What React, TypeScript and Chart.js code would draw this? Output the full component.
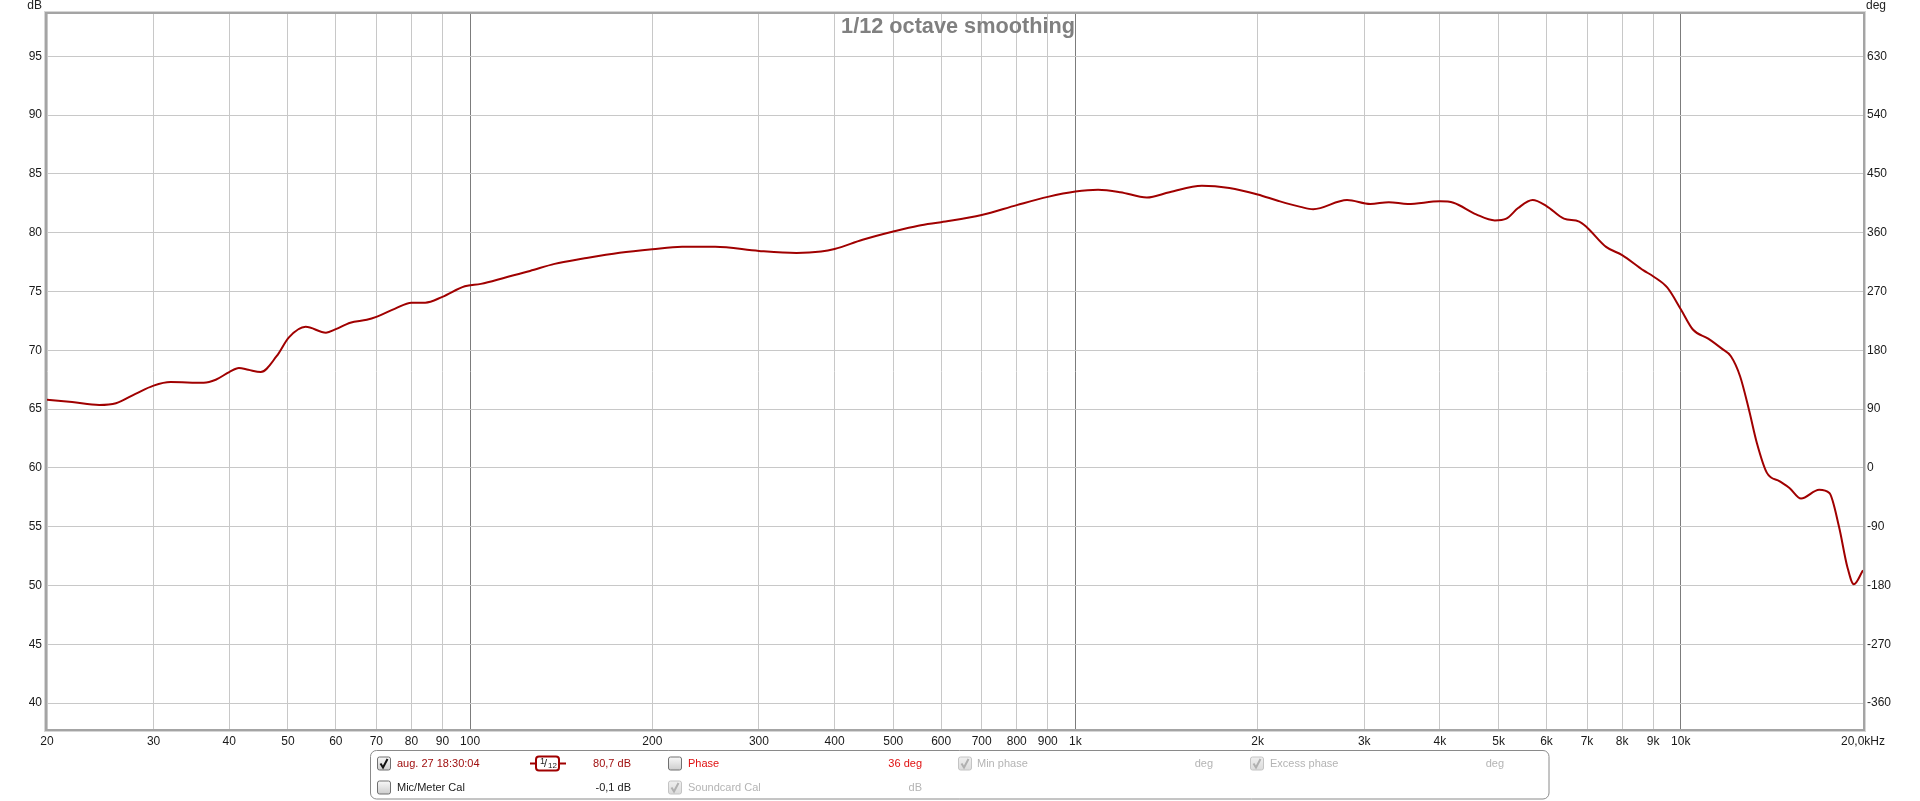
import React, { useEffect, useRef } from 'react';
import { Chart, registerables } from 'chart.js';
Chart.register(...registerables);

// ---- data ----
const freqHz = [
  20, 22, 24.4, 26, 28, 30, 32, 36.3, 38, 40, 41.5, 43, 45.1, 47.9, 50.2, 53.5, 57.8, 60, 63.4, 67.5,
  70, 75.2, 80, 84.3, 90, 98, 104.2, 114.4, 125.6, 137.9, 153.8, 176.6, 200, 224, 254, 300, 346, 380,
  400, 445, 500, 550, 600, 700, 800, 900, 1000, 1090, 1186, 1312, 1430, 1618, 1796, 2000, 2166, 2354,
  2470, 2810, 3070, 3294, 3540, 4000, 4212, 4592, 4930, 5150, 5386, 5692, 6000, 6412, 6796, 7000, 7526,
  8000, 8678, 9000, 9496, 10000, 10480, 11100, 11720, 12100, 12530, 12958, 13360, 13870, 14572, 15120,
  15800, 16930, 17600, 18256, 18840, 19314, 20000,
];
const splDb = [
  65.8, 65.6, 65.35, 65.5, 66.3, 67.0, 67.3, 67.25, 67.5, 68.15, 68.5, 68.35, 68.15, 69.5, 71.1, 72.0, 71.5, 71.8, 72.35, 72.6,
  72.85, 73.55, 74.05, 74.05, 74.55, 75.45, 75.65, 76.2, 76.75, 77.35, 77.8, 78.3, 78.6, 78.8, 78.8, 78.45, 78.28, 78.4,
  78.62, 79.4, 80.1, 80.6, 80.9, 81.5, 82.35, 83.05, 83.5, 83.65, 83.45, 83.0, 83.45, 84.0, 83.8, 83.25, 82.7, 82.2,
  82.0, 82.78, 82.44, 82.6, 82.44, 82.67, 82.55, 81.56, 81.05, 81.2, 82.1, 82.78, 82.27, 81.2, 80.95, 80.45, 78.8,
  78.1, 76.8, 76.3, 75.35, 73.5, 71.75, 71.0, 70.1, 69.5, 67.8, 64.97, 62.1, 59.6, 58.86, 58.3,
  57.4, 58.15, 57.87, 55.0, 51.6, 50.1, 51.3,
];
const freqTicks = [
  20, 30, 40, 50, 60, 70, 80, 90, 100, 200, 300, 400, 500, 600, 700, 800, 900, 1000,
  2000, 3000, 4000, 5000, 6000, 7000, 8000, 9000, 10000, 20000,
];
const freqTickLabels = [
  '20', '30', '40', '50', '60', '70', '80', '90', '100', '200', '300', '400', '500', '600', '700', '800', '900', '1k',
  '2k', '3k', '4k', '5k', '6k', '7k', '8k', '9k', '10k', '20,0kHz',
];
const decadeLines = [100, 1000, 10000];
const dbTicks = [40, 45, 50, 55, 60, 65, 70, 75, 80, 85, 90, 95];
const degTicks = [-360, -270, -180, -90, 0, 90, 180, 270, 360, 450, 540, 630];
const dbMin = 37.8;
const dbMax = 98.6;
const titleText = '1/12 octave smoothing';

const FONT = '"Liberation Sans", Arial, sans-serif';

function drawCheckbox(ctx: CanvasRenderingContext2D, x: number, y: number, checked: boolean, disabled: boolean) {
  const s = 13;
  ctx.save();
  const g = ctx.createLinearGradient(0, y, 0, y + s);
  if (disabled) {
    g.addColorStop(0, '#f0f0f0');
    g.addColorStop(1, '#dcdcdc');
  } else {
    g.addColorStop(0, '#fafafa');
    g.addColorStop(1, '#cfcfcf');
  }
  ctx.beginPath();
  ctx.roundRect(x + 0.5, y + 0.5, s, s, 2);
  ctx.fillStyle = g;
  ctx.fill();
  ctx.lineWidth = 1;
  ctx.strokeStyle = disabled ? '#c4c4c4' : '#707070';
  ctx.stroke();
  if (checked) {
    ctx.beginPath();
    ctx.moveTo(x + 3.5, y + 7);
    ctx.lineTo(x + 6, y + 11);
    ctx.lineTo(x + 10.5, y + 2.5);
    ctx.lineWidth = 2;
    ctx.strokeStyle = disabled ? '#b0b0b0' : '#111';
    ctx.stroke();
  }
  ctx.restore();
}

function txt(
  ctx: CanvasRenderingContext2D,
  s: string,
  x: number,
  y: number,
  color: string,
  align: CanvasTextAlign = 'left',
  font = `11px ${FONT}`,
  baseline: CanvasTextBaseline = 'middle'
) {
  ctx.font = font;
  ctx.fillStyle = color;
  ctx.textAlign = align;
  ctx.textBaseline = baseline;
  ctx.fillText(s, x, y);
}

const decorPlugin = {
  id: 'decor',
  afterDraw(chart: any) {
    const ctx: CanvasRenderingContext2D = chart.ctx;
    const a = chart.chartArea;
    ctx.save();
    // frame
    ctx.lineWidth = 1;
    ctx.strokeStyle = '#d6d6d6';
    ctx.strokeRect(a.left - 2.5, a.top - 2.5, a.right - a.left + 5, a.bottom - a.top + 5);
    ctx.lineWidth = 2;
    ctx.strokeStyle = '#a4a4a4';
    ctx.strokeRect(a.left - 1, a.top - 1, a.right - a.left + 2, a.bottom - a.top + 2);

    // title
    txt(ctx, titleText, (a.left + a.right) / 2 + 3, 27, '#808080', 'center', `bold 21.7px ${FONT}`);
    // axis units
    txt(ctx, 'dB', a.left - 5, 9, '#222', 'right', `12px ${FONT}`, 'alphabetic');
    txt(ctx, 'deg', a.right + 3, 9, '#222', 'left', `12px ${FONT}`, 'alphabetic');

    // legend box
    ctx.beginPath();
    ctx.roundRect(370.5, 750.5, 1178.5, 48.5, 6);
    ctx.lineWidth = 1;
    ctx.strokeStyle = '#8a8a8a';
    ctx.stroke();

    const r1 = 763.5;
    const r2 = 787.5;
    const red = '#a01010';
    const bright = '#e01010';
    const gray = '#b4b4b4';
    drawCheckbox(ctx, 377, r1 - 7, true, false);
    txt(ctx, 'aug. 27 18:30:04', 397, r1, red);
    // smoothing icon
    ctx.beginPath();
    ctx.moveTo(530, r1);
    ctx.lineTo(566, r1);
    ctx.lineWidth = 2;
    ctx.strokeStyle = '#a00000';
    ctx.stroke();
    ctx.beginPath();
    ctx.roundRect(536, r1 - 7, 23, 14, 3);
    ctx.fillStyle = '#fff';
    ctx.fill();
    ctx.stroke();
    txt(ctx, '1', 540, r1 - 2, '#222', 'left', `9px ${FONT}`);
    txt(ctx, '/', 544, r1, '#222', 'left', `11px ${FONT}`);
    txt(ctx, '12', 548, r1 + 2.5, '#222', 'left', `8px ${FONT}`);
    txt(ctx, '80,7 dB', 631, r1, red, 'right');
    drawCheckbox(ctx, 668, r1 - 7, false, false);
    txt(ctx, 'Phase', 688, r1, bright);
    txt(ctx, '36 deg', 922, r1, bright, 'right');
    drawCheckbox(ctx, 958, r1 - 7, true, true);
    txt(ctx, 'Min phase', 977, r1, gray);
    txt(ctx, 'deg', 1213, r1, gray, 'right');
    drawCheckbox(ctx, 1250, r1 - 7, true, true);
    txt(ctx, 'Excess phase', 1270, r1, gray);
    txt(ctx, 'deg', 1504, r1, gray, 'right');

    drawCheckbox(ctx, 377, r2 - 7, false, false);
    txt(ctx, 'Mic/Meter Cal', 397, r2, '#1a1a1a');
    txt(ctx, '-0,1 dB', 631, r2, '#1a1a1a', 'right');
    drawCheckbox(ctx, 668, r2 - 7, true, true);
    txt(ctx, 'Soundcard Cal', 688, r2, gray);
    txt(ctx, 'dB', 922, r2, gray, 'right');
    ctx.restore();
  },
};

export default function App() {
  const ref = useRef<HTMLCanvasElement | null>(null);
  useEffect(() => {
    if (!ref.current) return;
    const points = freqHz.map((f, i) => ({ x: f, y: splDb[i] }));
    const degMin = 630 + (dbMin - 95) * 18;
    const degMax = 630 + (dbMax - 95) * 18;
    const chart = new Chart(ref.current, {
      type: 'line',
      data: {
        datasets: [
          {
            data: points,
            borderColor: '#a00000',
            borderWidth: 2,
            pointRadius: 0,
            cubicInterpolationMode: 'monotone',
            xAxisID: 'x',
            yAxisID: 'y',
          },
        ],
      },
      options: {
        animation: false,
        responsive: false,
        devicePixelRatio: 1,
        layout: { padding: { top: 14, left: 0, right: 0, bottom: 0 } },
        plugins: { legend: { display: false }, tooltip: { enabled: false } },
        scales: {
          x: {
            type: 'logarithmic',
            min: 20,
            max: 20000,
            afterBuildTicks: (s: any) => {
              s.ticks = freqTicks.map((v) => ({ value: v }));
            },
            afterFit: (s: any) => {
              s.height = 72;
            },
            ticks: {
              autoSkip: false,
              maxRotation: 0,
              padding: 5,
              color: '#1a1a1a',
              font: { family: FONT, size: 12 },
              callback: (_v: any, i: number) => freqTickLabels[i],
            },
            grid: {
              drawTicks: false,
              color: (c: any) => (c.tick && decadeLines.includes(c.tick.value) ? '#7c7c7c' : '#c8c8c8'),
            },
            border: { display: false },
          },
          y: {
            type: 'linear',
            position: 'left',
            min: dbMin,
            max: dbMax,
            afterBuildTicks: (s: any) => {
              s.ticks = dbTicks.map((v) => ({ value: v }));
            },
            afterFit: (s: any) => {
              s.width = 47;
            },
            ticks: {
              padding: 5,
              color: '#1a1a1a',
              font: { family: FONT, size: 12 },
              callback: (v: any) => String(v),
            },
            grid: { drawTicks: false, color: '#c8c8c8' },
            border: { display: false },
          },
          y1: {
            type: 'linear',
            position: 'right',
            min: degMin,
            max: degMax,
            afterBuildTicks: (s: any) => {
              s.ticks = degTicks.map((v) => ({ value: v }));
            },
            afterFit: (s: any) => {
              s.width = 57;
            },
            ticks: {
              padding: 4,
              color: '#1a1a1a',
              font: { family: FONT, size: 12 },
              callback: (v: any) => String(v),
            },
            grid: { display: false, drawTicks: false },
            border: { display: false },
          },
        },
      },
      plugins: [decorPlugin],
    } as any);
    return () => chart.destroy();
  }, []);
  return (
    <div style={{ position: 'fixed', left: 0, top: 0, width: 1920, height: 801, background: '#fff' }}>
      <canvas ref={ref} width={1920} height={801} style={{ display: 'block' }} />
    </div>
  );
}
